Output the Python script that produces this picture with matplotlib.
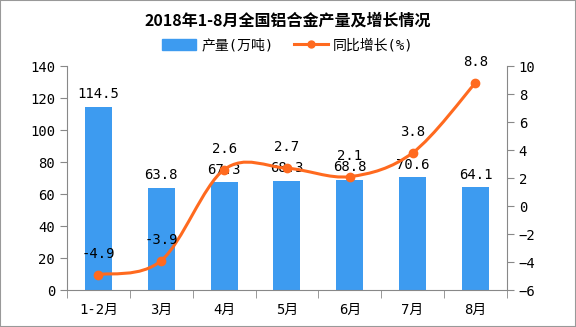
import numpy as np
import matplotlib.pyplot as plt
from matplotlib.path import Path
from matplotlib.patches import PathPatch, Rectangle
from matplotlib.lines import Line2D
from matplotlib.patches import Patch

plt.rcParams['font.family'] = ['DejaVu Sans Mono', 'Noto Sans CJK SC']

months = ['1-2月', '3月', '4月', '5月', '6月', '7月', '8月']
output = [114.5, 63.8, 67.3, 68.3, 68.8, 70.6, 64.1]
growth = [-4.9, -3.9, 2.6, 2.7, 2.1, 3.8, 8.8]

bar_color = '#3D9BF0'
line_color = '#FF6A1F'
axis_gray = '#888888'

fig = plt.figure(figsize=(5.76, 3.27), dpi=100)
ax = fig.add_axes([0.1163, 0.1131, 0.7637, 0.6850])
ax2 = ax.twinx()

x = np.arange(len(months))
ax.bar(x, output, width=0.43, color=bar_color, zorder=2)
for xi, v in zip(x, output):
    ax.annotate(f'{v}', (xi, v), xytext=(0, 4), textcoords='offset points',
                ha='center', va='bottom', fontsize=10)

ax.set_xlim(-0.5, len(months) - 0.5)
ax.set_ylim(0, 140)
ax.set_yticks(range(0, 141, 20))
ax2.set_ylim(-6, 10)
ax2.set_yticks(range(-6, 11, 2))

# smooth line (cubic bezier through the points)
pts = np.column_stack([x, growth]).astype(float)
verts = [tuple(pts[0])]
codes = [Path.MOVETO]
n = len(pts)
for i in range(n - 1):
    p0 = pts[max(i - 1, 0)]
    p1 = pts[i]
    p2 = pts[i + 1]
    p3 = pts[min(i + 2, n - 1)]
    c1 = p1 + (p2 - p0) / 6
    c2 = p2 - (p3 - p1) / 6
    verts += [tuple(c1), tuple(c2), tuple(p2)]
    codes += [Path.CURVE4] * 3
ax2.add_patch(PathPatch(Path(verts, codes), fill=False, edgecolor=line_color,
                        lw=2.2, zorder=3))
ax2.plot(x, growth, 'o', color=line_color, markersize=6, zorder=4)
for xi, v in zip(x, growth):
    ax2.annotate(f'{v}', (xi, v), xytext=(0, 10), textcoords='offset points',
                 ha='center', va='bottom', fontsize=10)

# axes styling
for a in (ax, ax2):
    a.spines['top'].set_visible(False)
    for s in ('left', 'right', 'bottom'):
        a.spines[s].set_color(axis_gray)
ax.spines['right'].set_visible(False)
ax2.spines['left'].set_visible(False)
ax2.spines['bottom'].set_visible(False)

ax.set_xticks(x)
ax.set_xticklabels(months)
ax.set_xticks(np.arange(-0.5, len(months), 1), minor=True)
ax.tick_params(axis='x', which='major', length=0, pad=9, labelsize=10)
ax.tick_params(axis='x', which='minor', length=6, color=axis_gray)
ax.tick_params(axis='y', length=5, color=axis_gray, labelsize=10)
ax2.tick_params(axis='y', length=5, color=axis_gray, labelsize=10)

fig.text(0.5, 0.937, '2018年1-8月全国铝合金产量及增长情况', ha='center', va='center',
         fontsize=11.5, fontweight='bold', family=['Noto Sans CJK SC'])

handles = [Patch(color=bar_color),
           Line2D([0], [0], color=line_color, lw=2.2, marker='o', markersize=5)]
fig.legend(handles, ['产量(万吨)', '同比增长(%)'], loc='center',
           bbox_to_anchor=(0.5, 0.862), ncol=2, frameon=False, fontsize=10,
           handlelength=2.4, handleheight=0.9, columnspacing=1.5, handletextpad=0.4)

fig.patches.append(Rectangle((0, 0), 1, 1, transform=fig.transFigure,
                             fill=False, edgecolor='#999999', lw=1.5))

fig.savefig('out.png', dpi=100)
